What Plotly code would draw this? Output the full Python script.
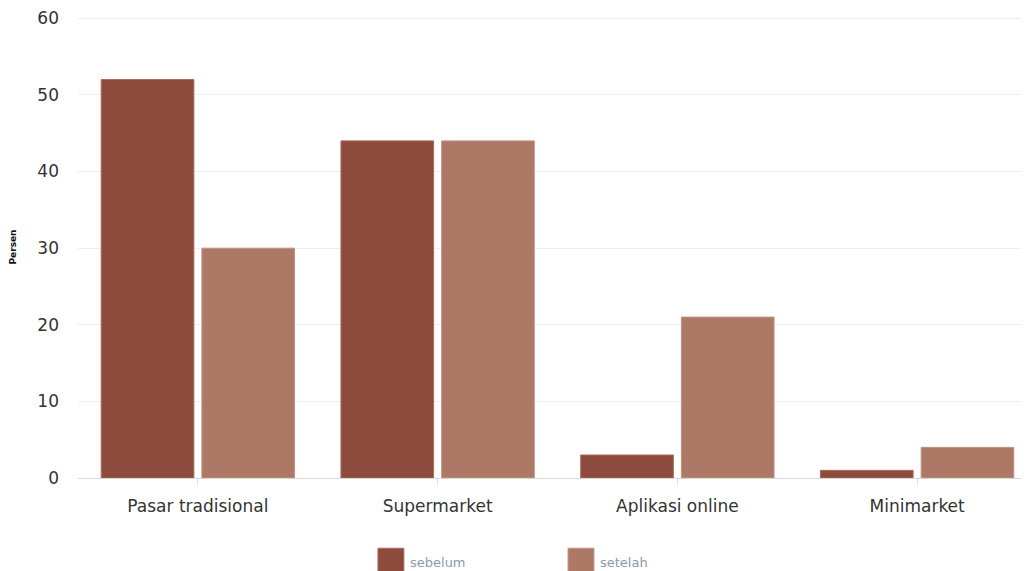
import plotly.graph_objects as go

categories = ["Pasar tradisional", "Supermarket", "Aplikasi online", "Minimarket"]
sebelum = [52, 44, 3, 1]
setelah = [30, 44, 21, 4]
y_ticks = [0, 10, 20, 30, 40, 50, 60]
series_names = ["sebelum", "setelah"]
series_colors = ["#8C4B3D", "#AD7866"]
edge_colors = ["#A9695B", "#C29282"]

fig = go.Figure()
for name, vals, col, edge in zip(series_names, [sebelum, setelah], series_colors, edge_colors):
    fig.add_trace(go.Bar(name=name, x=categories, y=vals, showlegend=False,
                         marker=dict(color=col, line=dict(color=edge, width=1))))

# custom legend with large swatches
legend_x = [0.3128, 0.511]
for lx, name, col, edge in zip(legend_x, series_names, series_colors, edge_colors):
    fig.add_shape(type="rect", xref="paper", yref="paper",
                  x0=lx, x1=lx + 0.027, y0=-0.235, y1=-0.152,
                  fillcolor=col, line=dict(color=edge, width=1))
    fig.add_annotation(xref="paper", yref="paper", x=lx + 0.031, y=-0.182,
                       xanchor="left", yanchor="middle", showarrow=False,
                       text=name, font=dict(size=13, color="#8a9aae"))

fig.update_layout(
    width=1029, height=571,
    margin=dict(l=70, r=0, t=8, b=101),
    paper_bgcolor="white", plot_bgcolor="white",
    barmode="group", bargap=0.16, bargroupgap=0.08,
    font=dict(family="DejaVu Sans", size=17, color="#333333"),
    xaxis=dict(range=[-0.5, 3.5], showgrid=False, showline=True, linecolor="#d8d8d8",
               ticks="outside", ticklen=7, tickcolor="#e4e4e4", ticklabelstandoff=6,
               tickfont=dict(size=17, color="#333333")),
    yaxis=dict(range=[0, 60.3], tickvals=y_ticks, showgrid=True, gridcolor="#eeeeee",
               zeroline=False, showline=False, ticklabelstandoff=18,
               tickfont=dict(size=17, color="#333333"),
               title=dict(text="<b>Persen</b>", font=dict(size=9, color="#111111"), standoff=19)),
)

fig.write_html("out.html")
